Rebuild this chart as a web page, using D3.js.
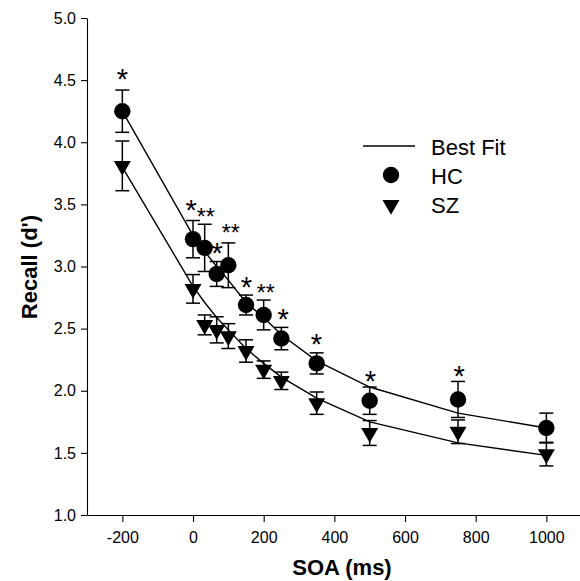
<!DOCTYPE html>
<html>
<head>
<meta charset="utf-8">
<script src="https://cdn.jsdelivr.net/npm/d3@7"></script>
<style>
  body { margin: 0; background: #fff; }
  text { font-family: "Liberation Sans", Arial, sans-serif; fill: #000; }
</style>
</head>
<body>
<div id="chart"></div>
<script>
// SOA values (ms) and mean recall (d') per group
const soa      = [-200, 0, 33, 67, 100, 150, 200, 250, 350, 500, 750, 1000];
const hcMean   = [4.25, 3.22, 3.15, 2.94, 3.01, 2.69, 2.61, 2.42, 2.22, 1.92, 1.93, 1.70];
const hcErr    = [0.17, 0.15, 0.19, 0.10, 0.18, 0.08, 0.12, 0.09, 0.085, 0.11, 0.145, 0.12];
const szMean   = [3.81, 2.82, 2.53, 2.49, 2.44, 2.32, 2.17, 2.08, 1.90, 1.66, 1.67, 1.49];
const szErr    = [0.20, 0.115, 0.08, 0.105, 0.10, 0.09, 0.07, 0.07, 0.09, 0.10, 0.095, 0.095];
// best-fit curves
const hcFit    = [4.25, 3.25, 3.12, 3.00, 2.89, 2.71, 2.59, 2.45, 2.24, 2.03, 1.82, 1.70];
const szFit    = [3.80, 2.84, 2.71, 2.59, 2.49, 2.34, 2.22, 2.11, 1.94, 1.75, 1.58, 1.48];
// significance markers (x in ms, y in d')
const starX    = [-200, -5, 36, 68, 107, 151, 206, 255, 349, 502, 753];
const starY    = [4.56, 3.51, 3.44, 3.16, 3.31, 2.89, 2.83, 2.63, 2.43, 2.13, 2.17];
const starText = ["*", "*", "**", "*", "**", "*", "**", "*", "*", "*", "*"];
const xTicks   = [-200, 0, 200, 400, 600, 800, 1000];
const yTicks   = [1.0, 1.5, 2.0, 2.5, 3.0, 3.5, 4.0, 4.5, 5.0];

const width = 580, height = 581;

const svg = d3.select("#chart")
  .append("svg")
    .attr("width", width)
    .attr("height", height);

let x = d3.scaleLinear()
  .domain([-300, 1100])
  .range([87, 581.7]);

let y = d3.scaleLinear()
  .domain([1, 5])
  .range([515, 18]);

// axes
let xAxis = svg.append("g")
   .attr("transform", `translate(0, ${y(1)})`)
   .call(d3.axisBottom(x).tickValues(xTicks).tickFormat(d => String(d))
     .tickSize(7).tickPadding(10).tickSizeOuter(0));

let yAxis = svg.append("g")
   .attr("transform", `translate(${x(-300)}, 0)`)
   .call(d3.axisLeft(y).tickValues(yTicks).tickFormat(d3.format(".1f"))
     .tickSize(6).tickPadding(5).tickSizeOuter(0));

[xAxis, yAxis].forEach(g => {
  g.selectAll("text").attr("font-size", 16).attr("font-family", "Liberation Sans, Arial, sans-serif");
  g.selectAll("line, path").attr("stroke", "#000").attr("stroke-width", 1.1);
});

svg.append("text")
   .attr("x", 342)
   .attr("y", 575)
   .attr("text-anchor", "middle")
   .attr("font-size", 22)
   .attr("font-weight", "bold")
   .text("SOA (ms)");

svg.append("text")
   .attr("transform", "translate(37, 267) rotate(-90)")
   .attr("text-anchor", "middle")
   .attr("font-size", 22)
   .attr("font-weight", "bold")
   .text("Recall (d')");

// fit lines
let line = d3.line()
  .x((d, i) => x(soa[i]))
  .y(d => y(d));

[hcFit, szFit].forEach(fit => {
  svg.append("path")
     .datum(fit)
     .attr("fill", "none")
     .attr("stroke", "#000")
     .attr("stroke-width", 1.4)
     .attr("d", line);
});

// error bars
function errorBars(mean, err) {
  let g = svg.append("g").attr("stroke", "#000").attr("stroke-width", 1.5);
  mean.forEach((m, i) => {
    let cx = x(soa[i]), top = y(m + err[i]), bot = y(m - err[i]);
    g.append("line").attr("x1", cx).attr("x2", cx).attr("y1", top).attr("y2", bot);
    g.append("line").attr("x1", cx - 7).attr("x2", cx + 7).attr("y1", top).attr("y2", top);
    g.append("line").attr("x1", cx - 7).attr("x2", cx + 7).attr("y1", bot).attr("y2", bot);
  });
}
errorBars(hcMean, hcErr);
errorBars(szMean, szErr);

let tri = d3.symbol().type(d3.symbolTriangle).size(125);

svg.append("g")
  .selectAll("path")
  .data(szMean)
  .join("path")
    .attr("d", tri)
    .attr("transform", (d, i) => `translate(${x(soa[i])}, ${y(d)}) rotate(180)`)
    .attr("fill", "#000");

svg.append("g")
  .selectAll("circle")
  .data(hcMean)
  .join("circle")
    .attr("cx", (d, i) => x(soa[i]))
    .attr("cy", d => y(d))
    .attr("r", 8.2)
    .attr("fill", "#000");

// asterisks
svg.append("g")
  .selectAll("text")
  .data(starText)
  .join("text")
    .attr("x", (d, i) => x(starX[i]))
    .attr("y", (d, i) => y(starY[i]))
    .attr("dy", "0.58em")
    .attr("text-anchor", "middle")
    .attr("font-size", d => d.length > 1 ? 23 : 29)
    .text(d => d);

// legend
let legend = svg.append("g");
legend.append("line")
  .attr("x1", 363).attr("x2", 415).attr("y1", 146).attr("y2", 146)
  .attr("stroke", "#000").attr("stroke-width", 1.4);
legend.append("circle").attr("cx", 391).attr("cy", 175).attr("r", 8.2).attr("fill", "#000");
legend.append("path").attr("d", tri).attr("transform", "translate(391, 205) rotate(180)").attr("fill", "#000");
["Best Fit", "HC", "SZ"].forEach((t, i) => {
  legend.append("text")
    .attr("x", 431)
    .attr("y", 155 + i * 29)
    .attr("font-size", 22)
    .text(t);
});
</script>
</body>
</html>
